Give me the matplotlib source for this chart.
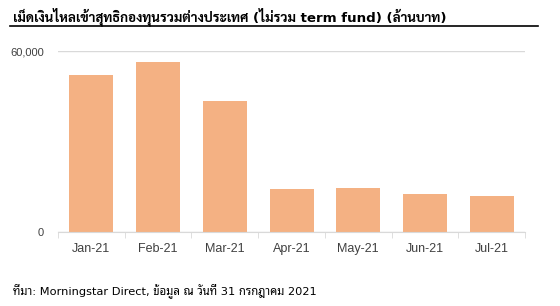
import matplotlib.pyplot as plt
import numpy as np

months = ['Jan-21', 'Feb-21', 'Mar-21', 'Apr-21', 'May-21', 'Jun-21', 'Jul-21']
inflow = [52100, 56400, 43500, 14300, 14700, 12600, 11950]
title = 'เม็ดเงินไหลเข้าสุทธิกองทุนรวมต่างประเทศ (ไม่รวม term fund) (ล้านบาท)'
source = 'ที่มา: Morningstar Direct, ข้อมูล ณ วันที่ 31 กรกฎาคม 2021'

title_fonts = ['DejaVu Sans', 'Sarabun', 'Noto Sans Thai']
thai_fonts = ['DejaVu Sans', 'Noto Sans Thai Looped', 'Noto Sans Thai']

fig = plt.figure(figsize=(5.6, 3.06), dpi=100)
ax = fig.add_axes([0.1036, 0.2418, 0.834, 0.5906])

x = np.arange(len(months))
ax.bar(x, inflow, width=0.66, color='#F4B183')

ax.set_xlim(-0.5, len(months) - 0.5)
ax.set_ylim(0, 60000)
ax.set_yticks([0, 60000])
ax.set_yticklabels(['0', '60,000'], family='Liberation Sans', fontsize=8, color='#404040')
ax.set_xticks(x)
ax.set_xticklabels(months, family='Liberation Sans', fontsize=9, color='#404040')
ax.set_xticks(np.arange(len(months) + 1) - 0.5, minor=True)
ax.tick_params(axis='x', which='major', length=0, pad=8)
ax.tick_params(axis='x', which='minor', length=4, color='#D9D9D9')
ax.tick_params(axis='y', length=0, pad=10)
ax.yaxis.grid(True, color='#D9D9D9', linewidth=1)
ax.set_axisbelow(True)
for s in ['top', 'right', 'left']:
    ax.spines[s].set_visible(False)
ax.spines['bottom'].set_color('#D9D9D9')

fig.text(13 / 560, 1 - 17 / 306, title, family=title_fonts, fontsize=9.6,
         fontweight='bold', va='center', ha='left')
fig.add_artist(plt.Line2D([10 / 560, 538 / 560], [1 - 26 / 306] * 2, color='black', linewidth=1.2))
fig.text(13 / 560, 1 - 292 / 306, source, family=thai_fonts, fontsize=8.2,
         va='center', ha='left')

fig.savefig('out.png', dpi=100)
